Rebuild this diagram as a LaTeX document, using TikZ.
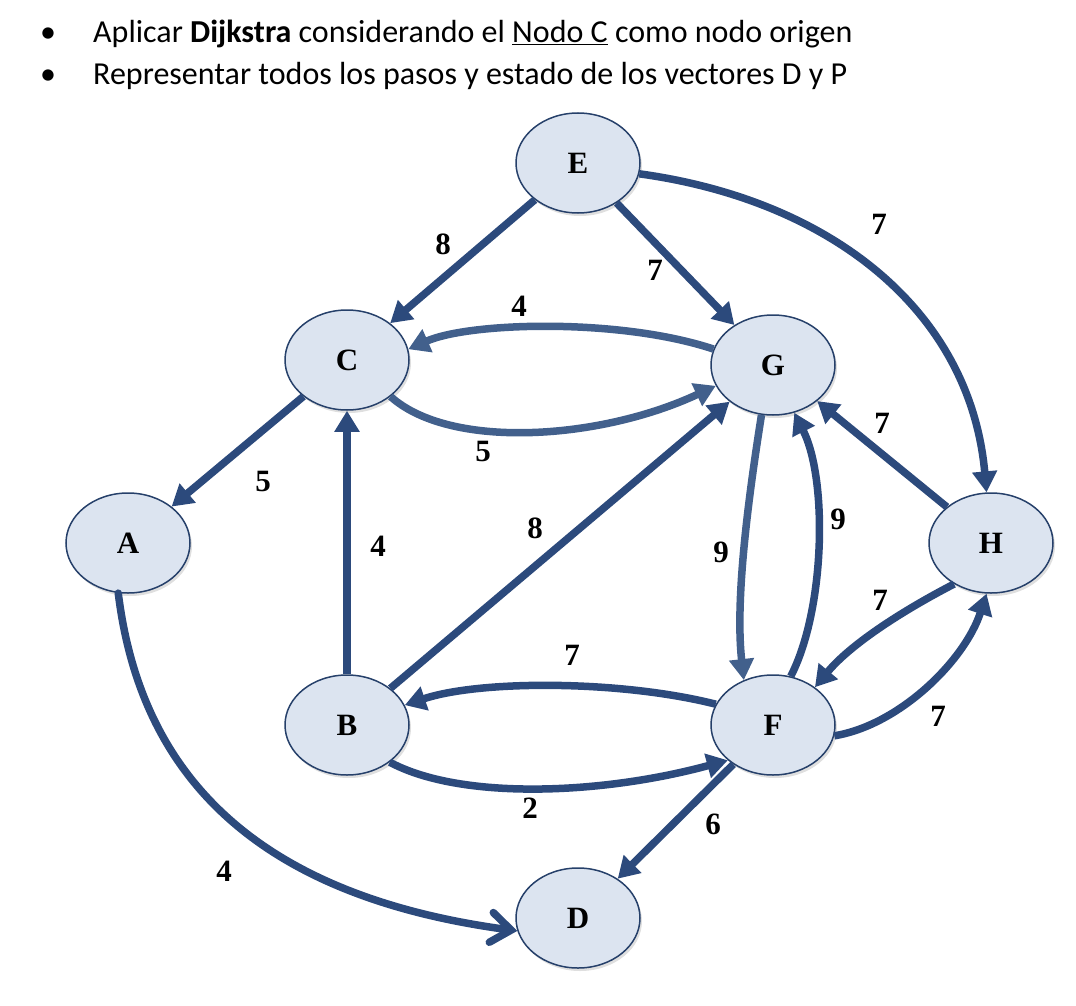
\documentclass[tikz,border=0pt]{standalone}
\usepackage{fontspec}
\newfontfamily\calibri{Carlito}
\newfontfamily\labelfont{Liberation Serif}
\usetikzlibrary{arrows.meta,shapes.geometric,shadows}
\definecolor{edgedark}{HTML}{2C4A7C}
\definecolor{edgelight}{HTML}{42608C}
\definecolor{nodefill}{HTML}{DCE4F0}
\definecolor{nodeline}{HTML}{26406A}
\tikzset{
  vert/.style={ellipse, draw=nodeline, line width=1.5pt, fill=nodefill,
    minimum width=124pt, minimum height=100pt, inner sep=0pt,
    font=\labelfont\fontsize{31}{33}\selectfont\bfseries,
    drop shadow={shadow xshift=2pt, shadow yshift=-3pt, opacity=0.25}},
  darkarc/.style={draw=edgedark, line width=7.5pt, -{Triangle[length=21pt,width=24pt]}},
  lightarc/.style={draw=edgelight, line width=7.5pt, -{Triangle[length=21pt,width=24pt]}},
  openarc/.style={draw=edgedark, line width=7.5pt, line cap=round, -{Straight Barb[length=20pt,width=30pt,line cap=round]}},
  lbl/.style={font=\labelfont\fontsize{31}{33}\selectfont\bfseries, inner sep=0pt},
  txt/.style={font=\calibri\fontsize{32}{35}\selectfont, anchor=base west, inner sep=0pt},
}
\begin{document}
\begin{tikzpicture}[x=1pt,y=-1pt]
\useasboundingbox (0,0) rectangle (1076,1006);
% header
\node[txt] (b1) at (40,43) {•};
\node[txt] (t1) at (93,43) {Aplicar \textbf{Dijkstra} considerando el \underline{Nodo C} como nodo origen};
\node[txt] (b2) at (40,85) {•};
\node[txt] (t2) at (93,85) {Representar todos los pasos y estado de los vectores D y P};
% nodes
\node[vert] (E) at (578,163) {E};
\node[vert] (C) at (347,360) {C};
\node[vert] (G) at (773,365) {G};
\node[vert] (A) at (128,543) {A};
\node[vert] (H) at (991,543) {H};
\node[vert] (B) at (347,725) {B};
\node[vert] (F) at (773,725) {F};
\node[vert] (D) at (578,918) {D};
% edges
\draw[darkarc] (E) -- (C);
\draw[darkarc] (E) -- (G);
\draw[darkarc] (E.-10) .. controls (830,200) and (970,310) .. (H.95);
\draw[lightarc] (G.165) .. controls (620,318) and (470,322) .. (C.10);
\draw[lightarc] (C.-40) .. controls (450,450) and (600,440) .. (G.200);
\draw[darkarc] (C) -- (A);
\draw[darkarc] (B) -- (C);
\draw[darkarc] (B) -- (G);
\draw[lightarc] (G.-103) .. controls (748,500) and (735,600) .. (F.123);
\draw[darkarc] (F.70) .. controls (825,610) and (828,480) .. (G.-66);
\draw[darkarc] (H) -- (G);
\draw[darkarc] (H.228) .. controls (900,612) and (850,645) .. (F.42);
\draw[darkarc] (F.-10) .. controls (900,725) and (965,660) .. (H.-95);
\draw[darkarc] (F.160) .. controls (620,680) and (480,680) .. (B.19);
\draw[darkarc] (B.-41) .. controls (460,800) and (600,795) .. (F.218);
\draw[darkarc] (F) -- (D);
\draw[openarc] (A.-101) .. controls (140,770) and (250,895) .. (D.192);
% labels
\node[lbl] (l1) at (443,244) {8};
\node[lbl] (l2) at (655,270) {7};
\node[lbl] (l3) at (879,224) {7};
\node[lbl] (l4) at (519,306) {4};
\node[lbl] (l5) at (483,451) {5};
\node[lbl] (l6) at (263,481) {5};
\node[lbl] (l7) at (378,546) {4};
\node[lbl] (l8) at (535,528) {8};
\node[lbl] (l9) at (721,552) {9};
\node[lbl] (l10) at (838,519) {9};
\node[lbl] (l11) at (882,423) {7};
\node[lbl] (l12) at (880,600) {7};
\node[lbl] (l13) at (938,716) {7};
\node[lbl] (l14) at (572,655) {7};
\node[lbl] (l15) at (530,808) {2};
\node[lbl] (l16) at (713,824) {6};
\node[lbl] (l17) at (224,871) {4};
\end{tikzpicture}
\end{document}
